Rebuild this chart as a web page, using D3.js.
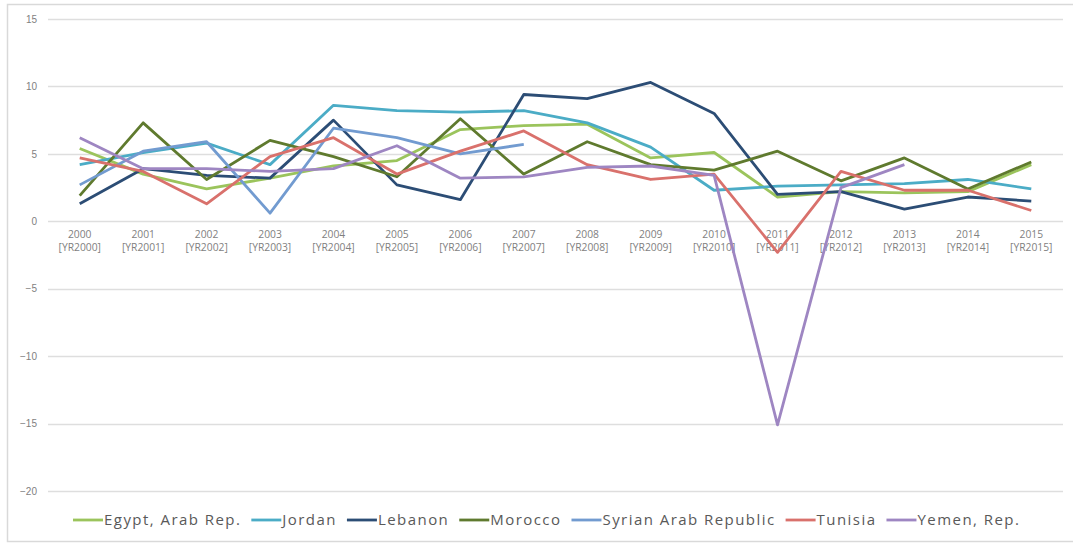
<!DOCTYPE html>
<html>
<head>
<meta charset="utf-8">
<script src="https://cdn.jsdelivr.net/npm/d3@7"></script>
<style>
  html, body { margin: 0; padding: 0; background: #fff; }
  svg { display: block; font-family: "Open Sans", "DejaVu Sans", sans-serif; }
</style>
</head>
<body>
<svg id="chart" width="1073" height="543"></svg>
<script>
// Years and their axis labels
const years = ["2000","2001","2002","2003","2004","2005","2006","2007",
               "2008","2009","2010","2011","2012","2013","2014","2015"];
const yearCodes = years.map(y => "[YR" + y + "]");
const yTicks = [15, 10, 5, 0, -5, -10, -15, -20];

// GDP growth (annual %) per country
const egypt   = [5.4, 3.5, 2.4, 3.2, 4.1, 4.5, 6.8, 7.1, 7.2, 4.7, 5.1, 1.8, 2.2, 2.1, 2.2, 4.2];
const jordan  = [4.2, 5.1, 5.8, 4.2, 8.6, 8.2, 8.1, 8.2, 7.3, 5.5, 2.3, 2.6, 2.7, 2.8, 3.1, 2.4];
const lebanon = [1.3, 3.9, 3.4, 3.2, 7.5, 2.7, 1.6, 9.4, 9.1, 10.3, 8.0, 2.0, 2.2, 0.9, 1.8, 1.5];
const morocco = [1.9, 7.3, 3.1, 6.0, 4.8, 3.3, 7.6, 3.5, 5.9, 4.2, 3.8, 5.2, 3.0, 4.7, 2.4, 4.4];
const syria   = [2.7, 5.2, 5.9, 0.6, 6.9, 6.2, 5.0, 5.7, null, null, null, null, null, null, null, null];
const tunisia = [4.7, 3.7, 1.3, 4.8, 6.2, 3.5, 5.2, 6.7, 4.2, 3.1, 3.5, -2.3, 3.7, 2.3, 2.3, 0.8];
const yemen   = [6.2, 3.9, 3.9, 3.7, 3.9, 5.6, 3.2, 3.3, 4.0, 4.1, 3.4, -15.1, 2.5, 4.2, null, null];

const seriesNames  = ["Egypt, Arab Rep.", "Jordan", "Lebanon", "Morocco", "Syrian Arab Republic", "Tunisia", "Yemen, Rep."];
const seriesValues = [egypt, jordan, lebanon, morocco, syria, tunisia, yemen];
const seriesColors = ["#9bc45c", "#4bacc6", "#2c4d75", "#5f7a2e", "#729bd0", "#d9716c", "#9e86c2"];

const svg = d3.select("#chart");
const W = 1073, H = 543;
const margin = { left: 48, right: 10, top: 19, bottom: 52 };

// Outer frame
svg.append("rect")
  .attr("x", 7.5).attr("y", 4.5)
  .attr("width", W + 10).attr("height", 537)
  .attr("fill", "none").attr("stroke", "#d9d9d9").attr("stroke-width", 1.5);

const x = d3.scaleBand().domain(years).range([margin.left, 1063]);
const y = d3.scaleLinear().domain([-20, 15]).range([491, 19]);

// Horizontal gridlines
svg.append("g")
  .selectAll("line")
  .data(yTicks)
  .join("line")
  .attr("x1", margin.left).attr("x2", 1063)
  .attr("y1", d => Math.round(y(d)) + 0.5).attr("y2", d => Math.round(y(d)) + 0.5)
  .attr("stroke", "#dedede").attr("stroke-width", 1.5);

// Y axis labels
const yAxis = d3.axisLeft(y).tickValues(yTicks).tickSize(0).tickPadding(0);
const gy = svg.append("g").attr("transform", "translate(37,0)").call(yAxis);
gy.select(".domain").remove();
gy.selectAll("text").attr("fill", "#7f7f7f").style("font-size", "10px");

// X axis labels: year + code on two lines
const gx = svg.append("g");
const xl = gx.selectAll("text")
  .data(years)
  .join("text")
  .attr("text-anchor", "middle")
  .attr("fill", "#7f7f7f")
  .style("font-size", "10.3px")
  .attr("x", d => x(d) + x.bandwidth() / 2);
xl.append("tspan").attr("x", d => x(d) + x.bandwidth() / 2).attr("y", 238).text(d => d);
xl.append("tspan").attr("x", d => x(d) + x.bandwidth() / 2).attr("y", 250.5).text((d, i) => yearCodes[i]);

// Series lines
const line = d3.line()
  .defined(d => d.v !== null)
  .x(d => x(d.year) + x.bandwidth() / 2)
  .y(d => y(d.v));

svg.append("g")
  .selectAll("path")
  .data(seriesValues.map((vals, i) => ({ name: seriesNames[i], color: seriesColors[i],
        pts: vals.map((v, j) => ({ year: years[j], v })) })))
  .join("path")
  .attr("fill", "none")
  .attr("stroke", d => d.color)
  .attr("stroke-width", 2.8)
  .attr("stroke-linejoin", "round")
  .attr("d", d => line(d.pts));

// Legend, laid out left to right
const legend = svg.append("g").attr("transform", "translate(73,520)");
let lx = 0;
seriesNames.forEach((name, i) => {
  const g = legend.append("g").attr("transform", `translate(${lx},0)`);
  g.append("line").attr("x1", 0).attr("x2", 30).attr("y1", 0).attr("y2", 0)
    .attr("stroke", seriesColors[i]).attr("stroke-width", 2.8);
  const t = g.append("text").attr("x", 31).attr("y", 5)
    .attr("fill", "#595959").style("font-size", "15px").style("letter-spacing", "1.45px")
    .text(name);
  lx += 31 + t.node().getComputedTextLength() + 10;
});
</script>
</body>
</html>
